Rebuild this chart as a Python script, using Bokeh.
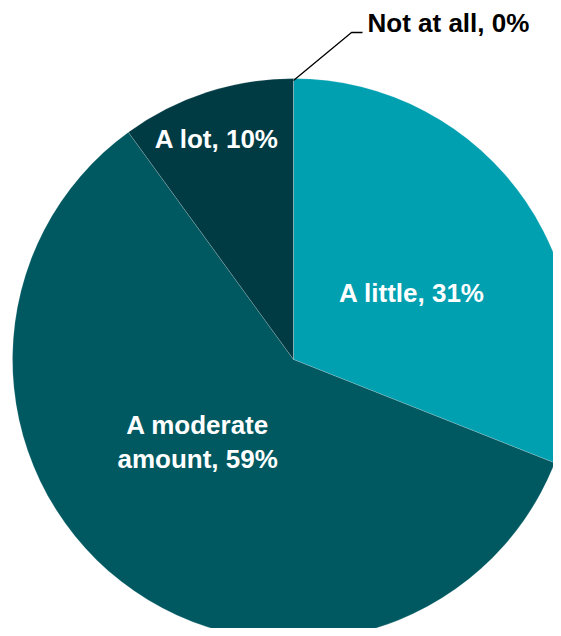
import math
from bokeh.plotting import figure
from bokeh.models import ColumnDataSource, Range1d
from bokeh.core.properties import value
from bokeh.embed import file_html
from bokeh.resources import INLINE

# ---- data ----
categories = ["A little", "A moderate amount", "A lot", "Not at all"]
label_texts = ["A little, 31%", "A moderate\namount, 59%", "A lot, 10%", "Not at all, 0%"]
percentages = [31, 59, 10, 0]
colors = ["#00A0B1", "#005961", "#003A43", "#003A43"]

# ---- layout / style ----
W, H = 553, 628
CX, CY = 293, 359          # pie centre in canvas pixels
R = 281                    # radius in pixels (data units == pixels)
label_dist = [136, 127, 232]
label_dx = [6, -18, -5]     # pixel nudges
label_dy = [10, -18, 0]     # pixel nudges (screen: down positive)

total = float(sum(percentages))
starts, ends, mids = [], [], []
cum = 0.0
for v in percentages:
    a0 = math.pi / 2 - 2 * math.pi * cum / total
    cum += v
    a1 = math.pi / 2 - 2 * math.pi * cum / total
    starts.append(a0)
    ends.append(a1)
    mids.append((a0 + a1) / 2)

p = figure(width=W, height=H, output_backend="svg", toolbar_location=None,
           x_range=Range1d(-CX, W - CX), y_range=Range1d(CY - H, CY),
           min_border=0)
p.axis.visible = False
p.grid.visible = False
p.outline_line_color = None
p.background_fill_color = "white"
p.border_fill_color = "white"

src = ColumnDataSource(dict(start=starts[:3], end=ends[:3], color=colors[:3]))
p.wedge(x=0, y=0, radius=R, start_angle="start", end_angle="end",
        direction="clock", fill_color="color", line_color="white",
        line_width=0.6, line_alpha=0.3, source=src)

# zero slice border line (thin line at top)
za = mids[3]
p.line([0, R * math.cos(za)], [0, R * math.sin(za)], line_color="white",
       line_width=0.6, line_alpha=0.3)

# in-slice labels
lx, ly = [], []
for i in range(3):
    lx.append(label_dist[i] * math.cos(mids[i]) + label_dx[i])
    ly.append(label_dist[i] * math.sin(mids[i]) - label_dy[i])
lsrc = ColumnDataSource(dict(x=lx, y=ly, t=label_texts[:3]))
p.text(x="x", y="y", text="t", source=lsrc, text_color="white",
       text_font=value("Liberation Sans"), text_font_style="bold",
       text_font_size="26px", text_align="center", text_baseline="middle",
       text_line_height=1.12)

# leader line for zero slice
sx, sy = (R - 2) * math.cos(za), (R - 2) * math.sin(za)
ex1, ey1 = sx + 58, sy + 48
ex2, ey2 = ex1 + 11, ey1
p.line([sx, ex1, ex2], [sy, ey1, ey2], line_color="black", line_width=1.3)
p.text(x=[ex2 + 5], y=[ey2 + 9.5], text=[label_texts[3]], text_color="black",
       text_font=value("Liberation Sans"), text_font_style="bold",
       text_font_size="26px", text_align="left", text_baseline="middle")

open("out.html", "w").write(file_html(p, INLINE))
